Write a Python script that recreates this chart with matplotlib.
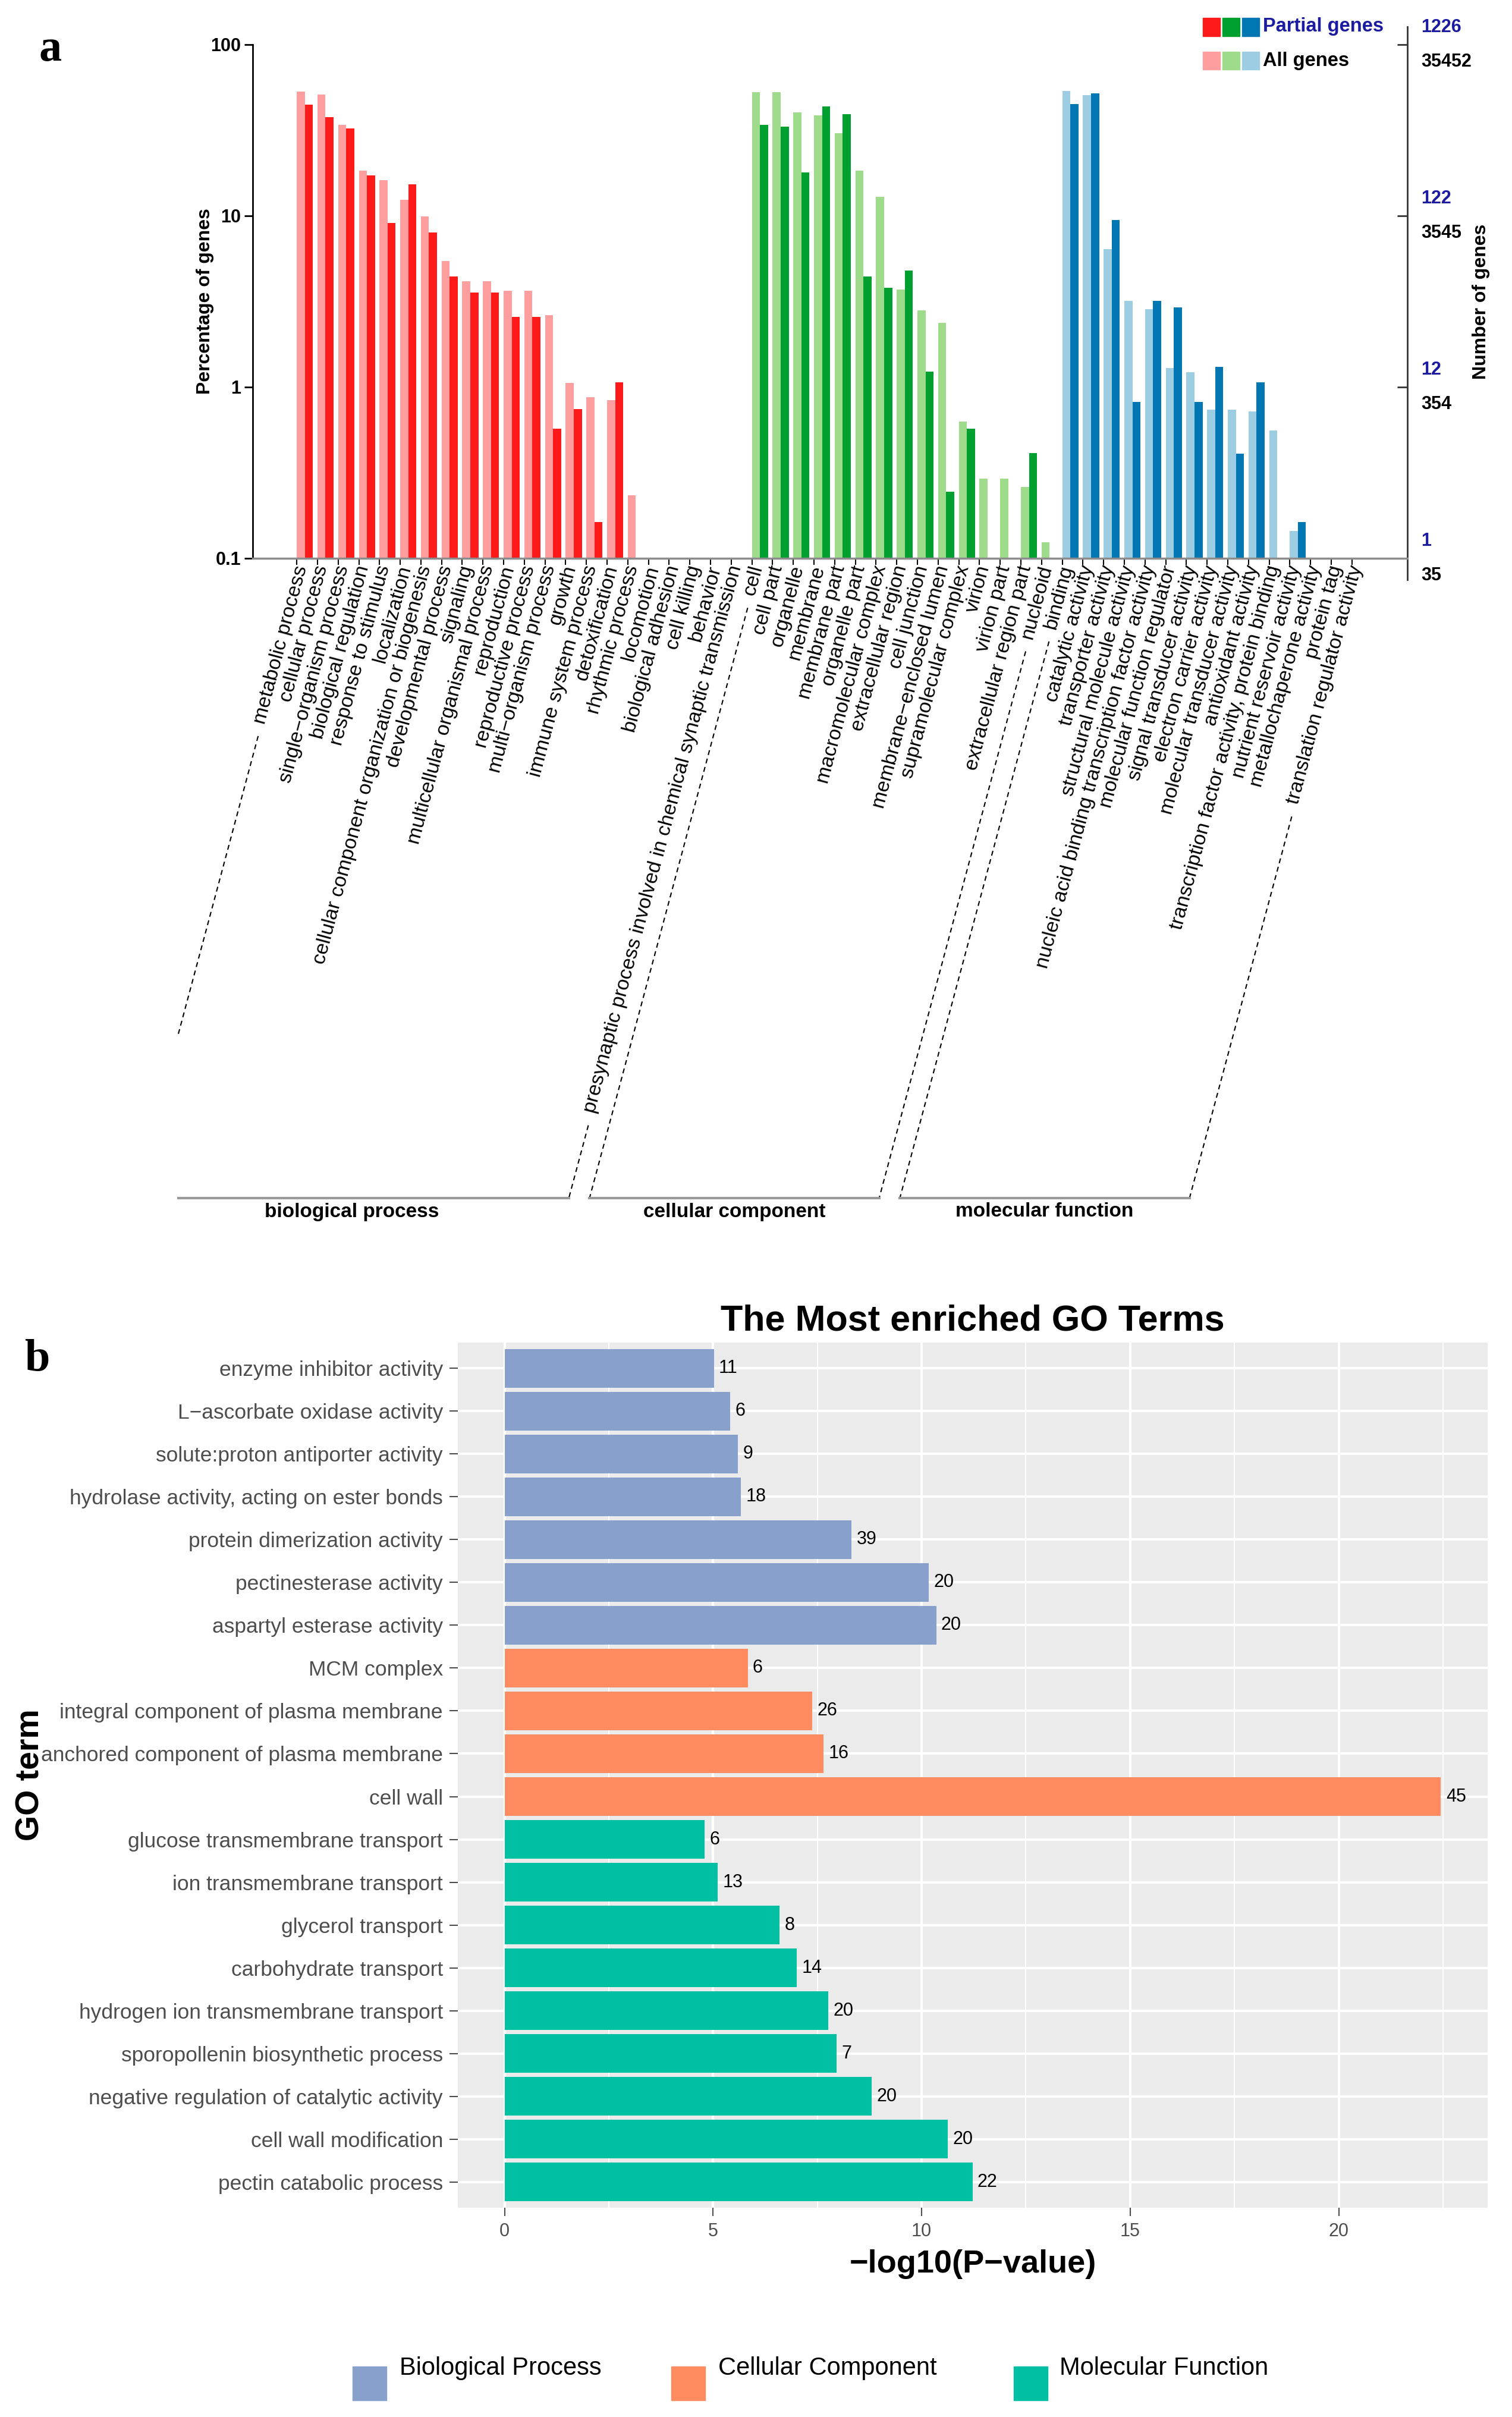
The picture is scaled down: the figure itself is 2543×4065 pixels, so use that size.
import numpy as np
import matplotlib
matplotlib.use("Agg")
import matplotlib.pyplot as plt
from matplotlib.patches import Rectangle
from matplotlib.lines import Line2D
from matplotlib.ticker import NullLocator

plt.rcParams["font.family"] = ["Liberation Sans", "DejaVu Sans"]

nan = np.nan

# --------------------------------------------------
# PANEL A DATA (percentage of genes, log scale)
# --------------------------------------------------

bp_terms = [
    "metabolic process", "cellular process", "single\u2212organism process",
    "biological regulation", "response to stimulus", "localization",
    "cellular component organization or biogenesis", "developmental process",
    "signaling", "multicellular organismal process", "reproduction",
    "reproductive process", "multi\u2212organism process", "growth",
    "immune system process", "detoxification", "rhythmic process",
    "locomotion", "biological adhesion", "cell killing", "behavior",
    "presynaptic process involved in chemical synaptic transmission",
]
bp_all = [53.3, 51.0, 33.9, 18.3, 16.1, 12.4, 9.95, 5.45, 4.16, 4.16, 3.66,
          3.66, 2.64, 1.06, 0.875, 0.836, 0.233, nan, nan, nan, nan, nan]
bp_partial = [44.6, 37.7, 32.4, 17.2, 9.1, 15.3, 8.0, 4.44, 3.57, 3.57, 2.56,
              2.56, 0.573, 0.743, 0.163, 1.07, nan, nan, nan, nan, nan, nan]

cc_terms = [
    "cell", "cell part", "organelle", "membrane", "membrane part",
    "organelle part", "macromolecular complex", "extracellular region",
    "cell junction", "membrane\u2212enclosed lumen", "supramolecular complex",
    "virion", "virion part", "extracellular region part", "nucleoid",
]
cc_all = [52.8, 52.8, 40.3, 38.5, 30.4, 18.3, 12.9, 3.72, 2.81, 2.38, 0.628,
          0.292, 0.292, 0.261, 0.124]
cc_partial = [33.9, 33.2, 17.9, 43.7, 39.3, 4.44, 3.79, 4.80, 1.23, 0.244,
              0.570, nan, nan, 0.411, nan]

mf_terms = [
    "binding", "catalytic activity", "transporter activity",
    "structural molecule activity",
    "nucleic acid binding transcription factor activity",
    "molecular function regulator", "signal transducer activity",
    "electron carrier activity", "molecular transducer activity",
    "antioxidant activity", "transcription factor activity, protein binding",
    "nutrient reservoir activity", "metallochaperone activity", "protein tag",
    "translation regulator activity",
]
mf_all = [53.7, 50.7, 6.39, 3.18, 2.84, 1.29, 1.22, 0.740, 0.740, 0.723,
          0.558, 0.145, nan, nan, nan]
mf_partial = [45.0, 51.8, 9.49, 0.817, 3.18, 2.93, 0.817, 1.31, 0.408, 1.07,
              nan, 0.163, nan, nan, nan]

group_names = ["biological process", "cellular component", "molecular function"]
partial_colors = ["#FF1A1A", "#00A030", "#0077B3"]
all_colors = ["#FF9E9E", "#9EDC8C", "#9DCDE3"]
navy = "#1C1CA0"

left_ticks = [0.1, 1, 10, 100]
left_tick_labels = ["0.1", "1", "10", "100"]
right_partial_labels = ["1", "12", "122", "1226"]
right_all_labels = ["35", "354", "3545", "35452"]

# --------------------------------------------------
# PANEL B DATA (most enriched GO terms)
# --------------------------------------------------

go_terms = [
    "enzyme inhibitor activity", "L\u2212ascorbate oxidase activity",
    "solute:proton antiporter activity",
    "hydrolase activity, acting on ester bonds",
    "protein dimerization activity", "pectinesterase activity",
    "aspartyl esterase activity", "MCM complex",
    "integral component of plasma membrane",
    "anchored component of plasma membrane", "cell wall",
    "glucose transmembrane transport", "ion transmembrane transport",
    "glycerol transport", "carbohydrate transport",
    "hydrogen ion transmembrane transport",
    "sporopollenin biosynthetic process",
    "negative regulation of catalytic activity", "cell wall modification",
    "pectin catabolic process",
]
go_log_p = [5.02, 5.41, 5.60, 5.67, 8.32, 10.17, 10.35, 5.83, 7.38, 7.65,
            22.45, 4.80, 5.11, 6.59, 7.01, 7.76, 7.96, 8.80, 10.63, 11.22]
go_counts = [11, 6, 9, 18, 39, 20, 20, 6, 26, 16, 45, 6, 13, 8, 14, 20, 7, 20,
             20, 22]
go_class = (["Biological Process"] * 7 + ["Cellular Component"] * 4
            + ["Molecular Function"] * 9)
class_names = ["Biological Process", "Cellular Component", "Molecular Function"]
class_colors = {"Biological Process": "#87A0CC",
                "Cellular Component": "#FF8C60",
                "Molecular Function": "#00C0A3"}

# --------------------------------------------------
# FIGURE
# --------------------------------------------------

W, H = 2543, 4065
fig = plt.figure(figsize=(W / 100, H / 100), dpi=100)


def fbox(x0, y0, x1, y1):
    # pixel box with top-left origin -> [left, bottom, width, height]
    return [x0 / W, 1 - y1 / H, (x1 - x0) / W, (y1 - y0) / H]


# --------------------------------------------------
# 1. PANEL A
# --------------------------------------------------

groups = [(bp_terms, bp_all, bp_partial),
          (cc_terms, cc_all, cc_partial),
          (mf_terms, mf_all, mf_partial)]
terms = bp_terms + cc_terms + mf_terms
n = len(terms)

ax = fig.add_axes(fbox(425, 75, 2367, 939))
ax.set_yscale("log")

spans = []
start = 0
for (t, a_vals, p_vals), ca, cp in zip(groups, all_colors, partial_colors):
    xs = np.arange(start, start + len(t))
    a_vals = np.array(a_vals)
    p_vals = np.array(p_vals)
    m = ~np.isnan(a_vals)
    ax.bar(xs[m], a_vals[m], width=0.39, align="edge", color=ca)
    m = ~np.isnan(p_vals)
    ax.bar(xs[m] + 0.39, p_vals[m], width=0.39, align="edge", color=cp)
    spans.append((start, start + len(t) - 1))
    start += len(t)

ax.set_ylim(0.1, 100)
ax.set_xlim(-2.13, n + 1.68)

ax.spines["top"].set_visible(False)
ax.spines["right"].set_visible(False)
ax.spines["left"].set_linewidth(2)
ax.spines["bottom"].set_color("#8C8C8C")
ax.spines["bottom"].set_linewidth(2.5)

ax.set_yticks(left_ticks)
ax.set_yticklabels(left_tick_labels, fontsize=22, fontweight="bold")
ax.yaxis.set_minor_locator(NullLocator())
ax.tick_params(axis="y", length=10, width=2, pad=4)

ax.set_xticks(np.arange(n) + 0.25)
ax.set_xticklabels(terms, rotation=75, ha="right", va="center",
                   rotation_mode="anchor", fontsize=24.5)
ax.set_xticks(np.arange(n), minor=True)
ax.tick_params(axis="x", which="major", length=0, pad=9)
ax.tick_params(axis="x", which="minor", length=8, width=1.5, color="black")

ax.text(-0.0412, 0.5, "Percentage of genes", transform=ax.transAxes,
        rotation=90, ha="center", va="center", fontsize=23, fontweight="bold")

# right axis with gene counts
ax2 = ax.twinx()
ax2.set_yscale("log")
ax2.set_ylim(0.1, 100)
ax2.set_yticks([1, 10, 100])
ax2.yaxis.set_minor_locator(NullLocator())
ax2.tick_params(axis="y", direction="in", length=12, width=2,
                labelright=False, color="#333333")
for s in ax2.spines.values():
    s.set_visible(False)

ax.plot([1, 1], [0.075, 127], transform=ax.get_yaxis_transform(),
        color="#333333", lw=2, clip_on=False)

for v, top, bot in zip(left_ticks, right_partial_labels, right_all_labels):
    ax.annotate(top, xy=(1, v), xycoords=ax.get_yaxis_transform(),
                xytext=(17, 21), textcoords="offset points", ha="left",
                va="center", color=navy, fontsize=22, fontweight="bold")
    ax.annotate(bot, xy=(1, v), xycoords=ax.get_yaxis_transform(),
                xytext=(17, -21), textcoords="offset points", ha="left",
                va="center", color="black", fontsize=22, fontweight="bold")

ax.text(1.0639, 0.5, "Number of genes", transform=ax.transAxes,
        rotation=90, ha="center", va="center", fontsize=23, fontweight="bold")

# legend (squares per ontology)
for k in range(3):
    fig.add_artist(Rectangle((fbox(2023 + 33 * k, 30, 0, 61)[0], 1 - 61 / H),
                             29 / W, 31 / H, color=partial_colors[k],
                             transform=fig.transFigure))
    fig.add_artist(Rectangle((fbox(2023 + 33 * k, 87, 0, 117)[0], 1 - 117 / H),
                             29 / W, 30 / H, color=all_colors[k],
                             transform=fig.transFigure))
fig.text(2124 / W, 1 - 44 / H, "Partial genes", color=navy, fontsize=23.5,
         fontweight="bold", va="center", ha="left")
fig.text(2124 / W, 1 - 102 / H, "All genes", color="black", fontsize=23.5,
         fontweight="bold", va="center", ha="left")

fig.text(65 / W, 1 - 102 / H, "a", family="Liberation Serif",
         fontweight="bold", fontsize=55, va="baseline", ha="left")

# group brackets that follow the slanted labels
fig.canvas.draw()
renderer = fig.canvas.get_renderer()
labels = ax.get_xticklabels()
ang = np.deg2rad(75)
d = np.array([np.cos(ang), np.sin(ang)])
fs_px = 24.5 * 100 / 72
bracket_y = H - 2015
clip_x = 300


def down_line(i):
    bb = labels[i].get_window_extent(renderer)
    p0 = np.array([bb.x0 + 0.5 * fs_px, bb.y0]) - d * 18
    t = max((p0[1] - bracket_y) / d[1], 0)
    return p0, p0 - d * t


def fig_line(p, q, **kw):
    fig.add_artist(Line2D([p[0] / W, q[0] / W], [p[1] / H, q[1] / H],
                          transform=fig.transFigure, **kw))


dash = dict(color="black", lw=1.5, linestyle=(0, (4, 3)))
for (i0, i1), name in zip(spans, group_names):
    lp0, lp1 = down_line(i0)
    rp0, rp1 = down_line(i1)
    left_end = lp1
    if lp1[0] < clip_x:
        s = (lp0[0] - clip_x) / d[0]
        left_end = lp0 - d * s
    fig_line(lp0, left_end, **dash)
    fig_line(rp0, rp1, **dash)
    fig_line((max(lp1[0], clip_x), bracket_y), (rp1[0], bracket_y),
             color="#9A9A9A", lw=3)
    fig.text((lp1[0] + rp1[0]) / 2 / W, 1 - 2038 / H, name, ha="center",
             va="center", fontsize=24, fontweight="bold")

# --------------------------------------------------
# 2. PANEL B
# --------------------------------------------------

bx = fig.add_axes(fbox(770, 2258, 2502, 3713))
bx.set_facecolor("#EBEBEB")
ypos = np.arange(len(go_terms))
bx.barh(ypos, go_log_p, height=0.9,
        color=[class_colors[c] for c in go_class], zorder=2)
bx.set_ylim(len(go_terms) - 0.4, -0.6)
bx.set_xlim(-1.12, 23.57)

bx.set_xticks([0, 5, 10, 15, 20])
bx.set_xticks(np.arange(2.5, 23, 5), minor=True)
bx.set_yticks(ypos)
bx.set_yticklabels(go_terms)
bx.set_axisbelow(True)
bx.grid(True, which="major", color="white", lw=3)
bx.grid(True, which="minor", axis="x", color="white", lw=1.5)
for s in bx.spines.values():
    s.set_visible(False)
bx.tick_params(which="minor", length=0)
bx.tick_params(axis="both", which="major", length=10, width=1.5,
               color="#4D4D4D", labelcolor="#4D4D4D", pad=8)
bx.tick_params(axis="y", labelsize=25.5)
bx.tick_params(axis="x", labelsize=22)

for y, v, c in zip(ypos, go_log_p, go_counts):
    bx.annotate(str(c), (v, y), xytext=(6, 0), textcoords="offset points",
                va="center", ha="left", fontsize=22)

bx.set_xlabel("\u2212log10(P\u2212value)", fontsize=39, fontweight="bold",
              va="center")
bx.xaxis.set_label_coords(0.5, -(3808 - 3713) / 1455)
bx.set_ylabel("GO term", fontsize=40, fontweight="bold", va="center")
bx.yaxis.set_label_coords((52 - 770) / 1732, 0.5)

fig.text(1636 / W, 1 - 2222 / H, "The Most enriched GO Terms", ha="center",
         va="center", fontsize=44, fontweight="bold")
fig.text(41 / W, 1 - 2305 / H, "b", family="Liberation Serif",
         fontweight="bold", fontsize=55, va="baseline", ha="left")

# bottom legend
for name, sx, tx in zip(class_names, [593, 1129, 1705], [672, 1208, 1782]):
    fig.add_artist(Rectangle((sx / W, 1 - 4037 / H), 57 / W, 57 / H,
                             color=class_colors[name],
                             transform=fig.transFigure))
    fig.text(tx / W, 1 - 3983 / H, name, ha="left", va="center", fontsize=30)

fig.savefig("out.png", dpi=100)
